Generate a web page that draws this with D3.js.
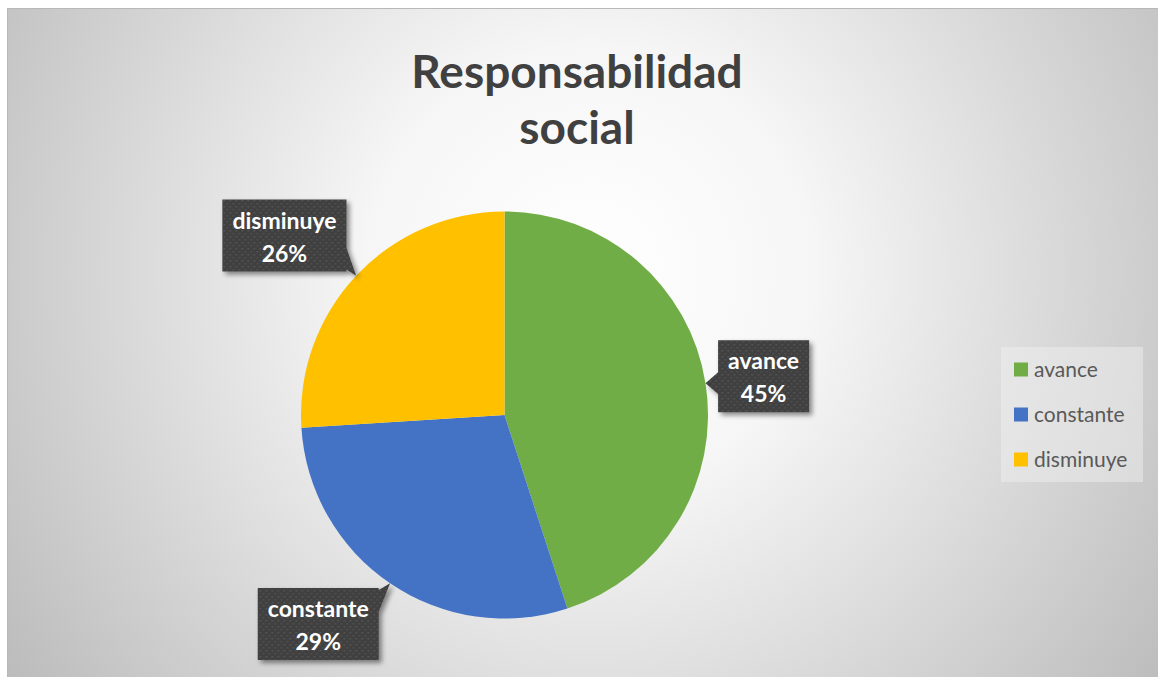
<!DOCTYPE html>
<html>
<head>
<meta charset="utf-8">
<script src="https://cdn.jsdelivr.net/npm/d3@7"></script>
<style>
  html, body { margin: 0; padding: 0; background: #fff; }
  svg { display: block; font-family: Lato, "Open Sans", sans-serif; }
</style>
</head>
<body>
<svg id="chart" width="1158" height="677"></svg>
<script>
// Datos del gráfico
const categorias = ["avance", "constante", "disminuye"];
const valores = [45, 29, 26];
const colores = ["#70AD47", "#4472C4", "#FFC000"];
const titulo = ["Responsabilidad", "social"];

const width = 1158, height = 677;
const svg = d3.select("#chart");
const defs = svg.append("defs");

// Fondo con degradado radial
const grad = defs.append("radialGradient")
  .attr("id", "bg")
  .attr("gradientUnits", "userSpaceOnUse")
  .attr("cx", 590).attr("cy", 270).attr("r", 740);
grad.append("stop").attr("offset", "0").attr("stop-color", "#ffffff");
grad.append("stop").attr("offset", "0.3").attr("stop-color", "#f6f6f6");
grad.append("stop").attr("offset", "1").attr("stop-color", "#b8b8b8");

// Patrón de puntos para las etiquetas
const pat = defs.append("pattern")
  .attr("id", "dots")
  .attr("patternUnits", "userSpaceOnUse")
  .attr("width", 6).attr("height", 6);
pat.append("rect").attr("width", 6).attr("height", 6).attr("fill", "#3f3f3f");
pat.append("rect").attr("x", 1).attr("y", 1).attr("width", 1.5).attr("height", 1.5).attr("fill", "#585858");
pat.append("rect").attr("x", 4).attr("y", 4).attr("width", 1.5).attr("height", 1.5).attr("fill", "#525252");

// Sombra
const sombra = defs.append("filter").attr("id", "sombra")
  .attr("x", "-20%").attr("y", "-20%").attr("width", "150%").attr("height", "150%");
sombra.append("feDropShadow")
  .attr("dx", 3).attr("dy", 3).attr("stdDeviation", 2.5)
  .attr("flood-color", "#000").attr("flood-opacity", 0.45);

svg.append("rect")
  .attr("x", 7.5).attr("y", 8.5)
  .attr("width", width).attr("height", height)
  .attr("fill", "url(#bg)")
  .attr("stroke", "#b8b8b8");

// Título
svg.append("text")
  .attr("x", 577).attr("y", 88)
  .attr("text-anchor", "middle")
  .attr("font-size", 46).attr("font-weight", "bold")
  .attr("fill", "#404040")
  .selectAll("tspan").data(titulo).join("tspan")
  .attr("x", 577)
  .attr("dy", (d, i) => i === 0 ? 0 : 56)
  .text(d => d);

// Pastel
const cx = 504.5, cy = 415, radio = 203.5;
const datos = categorias.map((c, i) => ({ nombre: c, valor: valores[i], color: colores[i] }));
const pie = d3.pie().value(d => d.valor).sort(null);
const arcos = pie(datos);
const arc = d3.arc().innerRadius(0).outerRadius(radio);

const gPie = svg.append("g").attr("transform", `translate(${cx},${cy})`);
gPie.selectAll("path")
  .data(arcos)
  .join("path")
  .attr("d", arc)
  .attr("fill", d => d.data.color);

// Etiquetas con globo (posición relativa al ángulo medio de cada porción)
const ajusteEtiquetas = [
  { giro: 0.5, dist: 262 },
  { giro: 7.5, dist: 280 },
  { giro: -4, dist: 284 }
];
const total = d3.sum(valores);
const gLab = svg.append("g").attr("transform", `translate(${cx},${cy})`);

arcos.forEach((a, i) => {
  const medio = (a.startAngle + a.endAngle) / 2;
  const punta = d3.pointRadial(medio, radio);
  const centro = d3.pointRadial(medio + ajusteEtiquetas[i].giro * Math.PI / 180, ajusteEtiquetas[i].dist);

  const g = gLab.append("g");
  const txt = g.append("text")
    .attr("text-anchor", "middle")
    .attr("font-size", 23).attr("font-weight", "bold")
    .attr("fill", "#fff");
  txt.append("tspan").attr("x", centro[0]).attr("y", centro[1] - 7).text(a.data.nombre);
  txt.append("tspan").attr("x", centro[0]).attr("y", centro[1] + 26)
    .text(Math.round(a.data.valor / total * 100) + "%");

  const bb = txt.node().getBBox();
  const bw = bb.width + 20, bh = 72;
  const x0 = centro[0] - bw / 2, y0 = centro[1] - bh / 2;
  const x1 = x0 + bw, y1 = y0 + bh;

  // lado del que sale la flecha
  const fueraX = punta[0] < x0 ? x0 - punta[0] : (punta[0] > x1 ? punta[0] - x1 : 0);
  const fueraY = punta[1] < y0 ? y0 - punta[1] : (punta[1] > y1 ? punta[1] - y1 : 0);
  let pts;
  if (fueraX >= fueraY) {
    const len = bh * 0.3;
    const s = Math.max(y0 + 2, Math.min(y1 - 2 - len, punta[1] - len / 2));
    if (punta[0] < x0) {
      pts = [[x0, y0], [x1, y0], [x1, y1], [x0, y1], [x0, s + len], punta, [x0, s]];
    } else {
      pts = [[x0, y0], [x1, y0], [x1, s], punta, [x1, s + len], [x1, y1], [x0, y1]];
    }
  } else {
    const len = bw * 0.3;
    const s = Math.max(x0 + 2, Math.min(x1 - 2 - len, punta[0] - len / 2));
    if (punta[1] < y0) {
      pts = [[x0, y0], [s, y0], punta, [s + len, y0], [x1, y0], [x1, y1], [x0, y1]];
    } else {
      pts = [[x0, y0], [x1, y0], [x1, y1], [s + len, y1], punta, [s, y1], [x0, y1]];
    }
  }
  g.insert("path", "text")
    .attr("d", d3.line()(pts) + "Z")
    .attr("fill", "url(#dots)")
    .attr("filter", "url(#sombra)");
});

// Leyenda
const gLeg = svg.append("g").attr("transform", "translate(1001,347)");
gLeg.append("rect")
  .attr("width", 142).attr("height", 135)
  .attr("fill", "#f2f2f2").attr("fill-opacity", 0.45);
const y = d3.scaleBand().domain(categorias).range([0, 135]);
const item = gLeg.selectAll("g.item").data(datos).join("g")
  .attr("class", "item")
  .attr("transform", d => `translate(13,${y(d.nombre) + y.bandwidth() / 2})`);
item.append("rect")
  .attr("y", -7).attr("width", 14).attr("height", 14)
  .attr("fill", d => d.color);
item.append("text")
  .attr("x", 20).attr("dy", "0.35em")
  .attr("font-size", 21).attr("fill", "#595959")
  .text(d => d.nombre);
</script>
</body>
</html>
